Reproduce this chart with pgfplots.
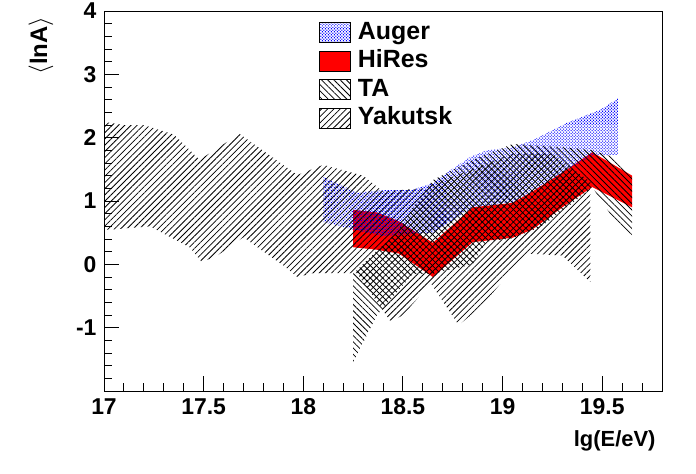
\documentclass[border=0pt]{standalone}
\usepackage{pgfplots}
\pgfplotsset{compat=1.18}
\usetikzlibrary{patterns.meta}
\usepackage{fontspec}
\setmainfont{Liberation Sans}
\definecolor{rootblue}{RGB}{0,0,255}
\definecolor{rootred}{RGB}{255,0,0}
\tikzset{
  augerfill/.style={pattern={Dots[distance=2.12bp, radius=0.75bp, angle=45]}, pattern color=rootblue},
  tafill/.style={pattern={Lines[angle=-45, distance=4.4bp, line width=0.8bp]}, pattern color=black},
  yakfill/.style={pattern={Lines[angle=45, distance=4.4bp, line width=0.8bp]}, pattern color=black},
}
\begin{document}
\begin{tikzpicture}
\useasboundingbox (0,0) rectangle (696bp,474bp);
\begin{axis}[
  at={(104bp,83bp)}, anchor=south west,
  scale only axis, width=558bp, height=380bp,
  xmin=17, xmax=19.8, ymin=-2, ymax=4,
  clip mode=individual,
  xtick={17,17.5,...,20}, ytick={-2,-1,...,4},
  yticklabels={,-1,0,1,2,3,4},
  minor x tick num=4, minor y tick num=4,
  xtick pos=bottom, ytick pos=left, tick align=inside,
  major tick length=15bp, minor tick length=7.5bp,
  every tick/.style={black, line width=1bp},
  axis line style={line width=1bp},
  /pgf/number format/assume math mode=true,
  ticklabel style={font=\bfseries\fontsize{23}{23}\selectfont},
  yticklabel style={xshift=-4bp},
  xticklabel style={yshift=-4bp},
  legend style={at={(rel axis cs:0.3853,0.9737)}, anchor=north west, draw=none, fill=none,
    inner sep=0pt, row sep=5.5bp, column sep=7bp,
    nodes={inner sep=0pt, text height=18bp, text depth=5bp},
    font=\bfseries\fontsize{25}{25}\selectfont},
  legend cell align=left,
  legend image code/.code={\draw[#1, draw=black, line width=0.8bp] (0bp,-10bp) rectangle (31bp,10bp);},
]
\addlegendimage{augerfill}
\addlegendentry{Auger}
\addlegendimage{fill=rootred}
\addlegendentry{HiRes}
\addlegendimage{tafill}
\addlegendentry{TA}
\addlegendimage{yakfill}
\addlegendentry{Yakutsk}

% HiRes
\addplot[forget plot, draw=none, fill=rootred] coordinates {
(18.25,0.86)(18.37,0.82)(18.48,0.68)(18.65,0.34)(18.85,0.9)(19.05,0.97)(19.15,1.15)(19.3,1.45)(19.45,1.77)(19.65,1.4)
(19.65,0.9)(19.45,1.22)(19.3,0.9)(19.15,0.55)(19.05,0.42)(18.85,0.35)(18.65,-0.2)(18.48,0.17)(18.37,0.23)(18.25,0.27)
} -- cycle;
% Auger
\addplot[forget plot, draw=none, augerfill] coordinates {
(18.1,1.38)(18.17,1.28)(18.27,1.13)(18.4,1.17)(18.54,1.17)(18.65,1.28)(18.74,1.49)(18.84,1.7)(18.92,1.8)(19.04,1.84)(19.15,1.96)(19.32,2.23)(19.49,2.44)(19.58,2.62)
(19.58,1.73)(19.45,1.72)(19.3,1.45)(19.15,1.15)(19.05,0.98)(18.85,0.9)(18.65,0.5)(18.55,0.48)(18.4,0.45)(18.25,0.55)(18.1,0.67)
} -- cycle;
% TA
\addplot[forget plot, draw=none, tafill] coordinates {
(18.25,-0.15)(18.38,0.25)(18.47,0.5)(18.55,0.9)(18.65,1.33)(18.85,1.65)(19.05,1.9)(19.3,1.85)(19.45,1.8)(19.55,1.7)(19.65,1.38)
(19.65,0.46)(19.55,0.75)(19.45,1.22)(19.34,0.94)(19.19,0.59)(19.05,0.41)(18.92,0.36)(18.85,0.0)(18.65,-0.15)(18.55,-0.15)(18.37,-0.8)(18.25,-1.55)
} -- cycle;
% Yakutsk
\addplot[forget plot, draw=none, yakfill] coordinates {
(17.0,2.25)(17.1,2.2)(17.2,2.2)(17.35,2.05)(17.48,1.65)(17.68,2.06)(17.97,1.41)(18.1,1.57)(18.3,1.4)(18.4,1.15)(18.6,1.2)(18.85,1.5)(19.05,1.75)(19.25,1.75)(19.44,1.3)
(19.44,-0.28)(19.3,0.14)(19.12,0.17)(18.89,-0.67)(18.78,-0.96)(18.64,-0.3)(18.5,-0.8)(18.44,-0.91)(18.27,-0.14)(18.17,-0.14)(18.05,-0.14)(17.97,-0.2)(17.91,-0.04)(17.77,0.27)(17.7,0.43)(17.56,0.12)(17.49,0.04)(17.43,0.27)(17.23,0.6)(17.04,0.55)(17.0,0.55)
} -- cycle;

\node[anchor=base east, font=\bfseries\fontsize{22}{22}\selectfont] at (axis cs:19.785,-2.869) {lg(E/eV)};
\node[anchor=base east, rotate=90, font=\bfseries\fontsize{24}{24}\selectfont] at (axis cs:16.714,3.968) {$\langle$lnA$\rangle$};
\end{axis}
\end{tikzpicture}
\end{document}
